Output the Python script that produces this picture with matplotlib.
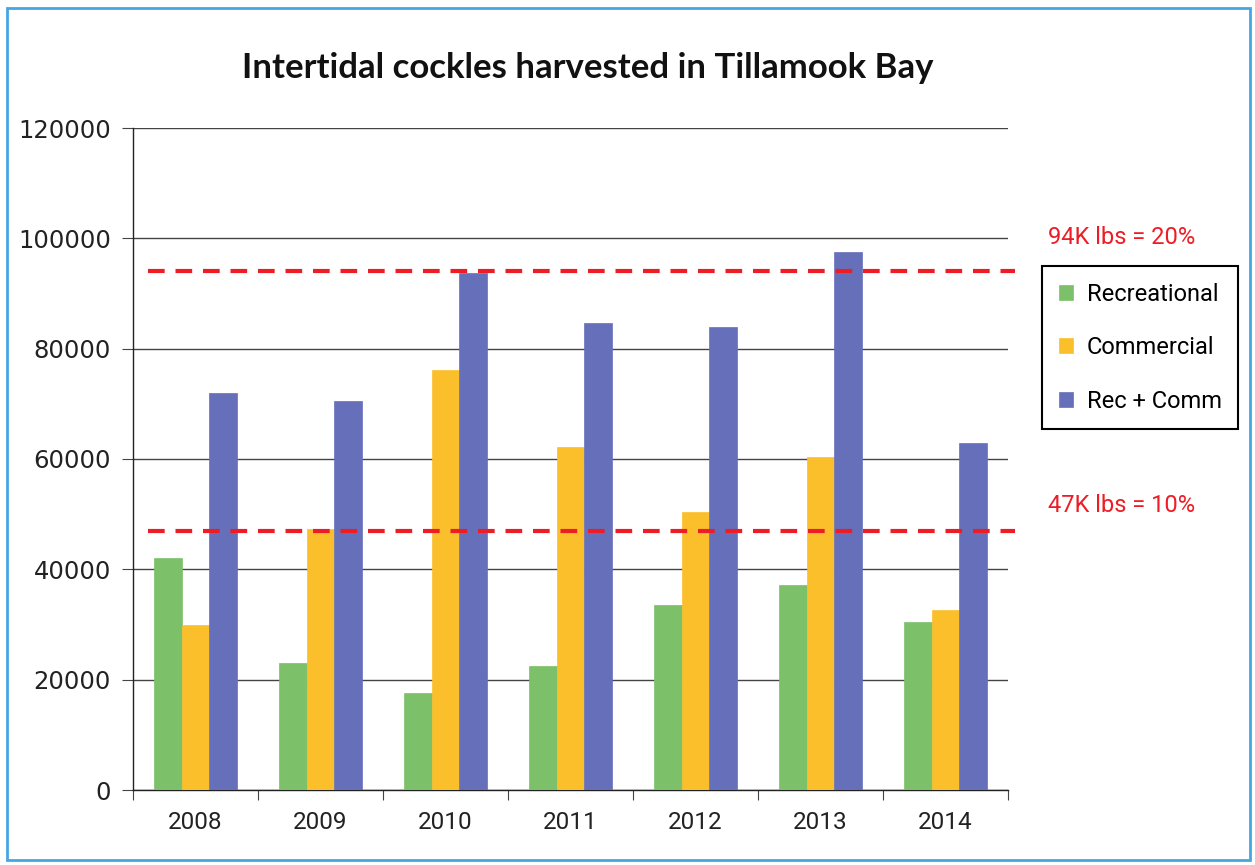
import numpy as np
import matplotlib.pyplot as plt
from matplotlib.patches import Rectangle

# harvest by year, lbs
years = ["2008", "2009", "2010", "2011", "2012", "2013", "2014"]
recreational = [42000, 23000, 17500, 22500, 33500, 37200, 30500]
commercial = [30000, 47300, 76200, 62200, 50400, 60400, 32600]
rec_comm = [72000, 70500, 93700, 84700, 84000, 97500, 62900]

# reference levels
level_20 = 94000
level_10 = 47000
level_labels = ["94K lbs = 20%", "47K lbs = 10%"]

series = [("Recreational", recreational, "#7cc06a"),
          ("Commercial", commercial, "#fbbf2c"),
          ("Rec + Comm", rec_comm, "#6670ba")]

fig = plt.figure(figsize=(12.55, 8.65), dpi=100)
ax = fig.add_axes([133 / 1255, 1 - 790 / 865, 875 / 1255, 662 / 865])

x = np.arange(len(years))
w = 0.22
for i, (name, vals, col) in enumerate(series):
    ax.bar(x + (i - 1) * w, vals, width=w, color=col, label=name,
           edgecolor=col, linewidth=0.5, zorder=3)

ax.set_xlim(-0.5, len(years) - 0.5)
ax.set_ylim(0, 120000)
ax.set_yticks(np.arange(0, 120001, 20000))
ax.set_yticklabels([str(v) for v in range(0, 120001, 20000)],
                   family="DejaVu Sans", fontsize=17.5, color="#222222")
ax.yaxis.grid(True, color="#444444", linewidth=1.0, zorder=0)
ax.tick_params(axis="y", length=8, width=0.8, color="#444444", pad=8)

# year labels centred, tick marks between groups
ax.set_xticks(x)
ax.set_xticklabels(years, family="Roboto", fontsize=17.5, color="#222222")
ax.tick_params(axis="x", which="major", length=0, pad=15)
ax.set_xticks(np.arange(-0.5, len(years)), minor=True)
ax.tick_params(axis="x", which="minor", length=7, width=0.8, color="#444444")

for s in ["top", "right"]:
    ax.spines[s].set_visible(False)
for s in ["left", "bottom"]:
    ax.spines[s].set_color("#222222")
    ax.spines[s].set_linewidth(1.0)

# dashed harvest limits
for lvl in (level_20, level_10):
    ax.axhline(lvl, xmin=0.017, xmax=1.008, color="#ee1c25", linewidth=3,
               dashes=(4, 2.6), clip_on=False, zorder=4)

fig.text(1048 / 1255, 1 - 238 / 865, level_labels[0], color="#ee1c25",
         family="Roboto", fontsize=17, va="center", ha="left")
fig.text(1048 / 1255, 1 - 506 / 865, level_labels[1], color="#ee1c25",
         family="Roboto", fontsize=17, va="center", ha="left")

fig.text(588 / 1255, 1 - 68 / 865, "Intertidal cockles harvested in Tillamook Bay",
         family="Lato", fontweight="bold", fontsize=25,
         ha="center", va="center", color="#111111")

leg = fig.legend(loc="upper left", bbox_to_anchor=(1042 / 1255, 1 - 266 / 865),
                 prop={"family": "Roboto", "size": 17}, frameon=True,
                 fancybox=False, edgecolor="black", framealpha=1,
                 borderpad=0.7, labelspacing=1.3, handlelength=0.6,
                 handleheight=0.6, handletextpad=0.6, borderaxespad=0)
leg.get_frame().set_linewidth(1.5)

# page border
fig.patches.append(Rectangle((7 / 1255, 5 / 865), 1243 / 1255, 852 / 865,
                             transform=fig.transFigure, fill=False,
                             edgecolor="#45a6e4", linewidth=2))

fig.savefig("out.png", dpi=100)
